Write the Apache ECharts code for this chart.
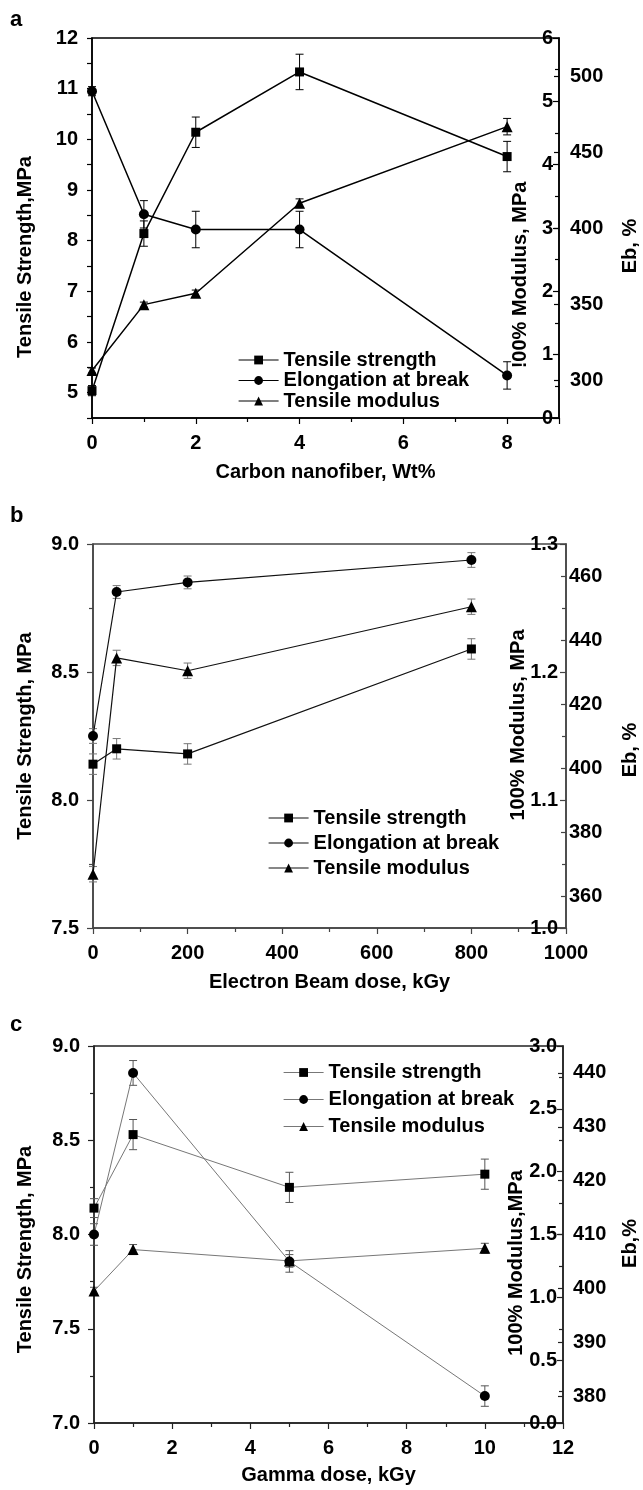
<!DOCTYPE html>
<html><head><meta charset="utf-8">
<script src="https://cdn.jsdelivr.net/npm/echarts@6/dist/echarts.min.js"></script>
<style>html,body{margin:0;padding:0;background:#fff}#c{width:643px;height:1490px}</style>
</head><body><div id="c"></div>
<script>
// ---------- Panel a: Carbon nanofiber ----------
const xA = [0, 1, 2, 4, 8];
const tsA = [5.04, 8.14, 10.14, 11.33, 9.66];
const tsErrA = [0.1, 0.25, 0.3, 0.35, 0.3];
const ebA = [490, 409, 399, 399, 303];
const ebErrA = [3, 9, 12, 12, 9];
const modA = [0.75, 1.79, 1.97, 3.39, 4.6];
const modErrA = [0.04, 0.04, 0.05, 0.07, 0.13];
const xTicksA = [0, 2, 4, 6, 8];
const tsTicksA = [5, 6, 7, 8, 9, 10, 11, 12];
const tsMinorA = [4.5, 5, 5.5, 6, 6.5, 7, 7.5, 8, 8.5, 9, 9.5, 10, 10.5, 11, 11.5, 12];
const ebTicksA = [300, 350, 400, 450, 500];

// ---------- Panel b: Electron beam dose ----------
const xB = [0, 50, 200, 800];
const tsB = [8.14, 8.20, 8.18, 8.59];
const tsErrB = [0.04, 0.04, 0.04, 0.04];
const ebB = [410, 455, 458, 465];
const ebErrB = [2.3, 2, 2, 2.3];
const modB = [1.042, 1.211, 1.201, 1.251];
const modErrB = [0.006, 0.006, 0.006, 0.006];
const ebTicksB = [360, 380, 400, 420, 440, 460];

// ---------- Panel c: Gamma dose ----------
const xC = [0, 1, 5, 10];
const tsC = [8.14, 8.53, 8.25, 8.32];
const tsErrC = [0.05, 0.08, 0.08, 0.08];
const ebC = [410, 440, 405, 380];
const ebErrC = [2, 2.3, 2, 1.9];
const modC = [1.05, 1.38, 1.29, 1.39];
const modErrC = [0.03, 0.04, 0.05, 0.04];
const ebTicksC = [380, 390, 400, 410, 420, 430, 440];

const NAMES = ['Tensile strength', 'Elongation at break', 'Tensile modulus'];
const FONT = "'Liberation Sans', Arial, Helvetica, sans-serif";
const txt = (size) => ({ fontFamily: FONT, fontWeight: 'bold', fontSize: size, color: '#000' });

function pairs(xs, ys) { return xs.map((x, i) => [x, ys[i]]); }

function lineSeries(name, xs, ys, xi, yi, symbol, size, color, width) {
  return {
    type: 'line', name, xAxisIndex: xi, yAxisIndex: yi, data: pairs(xs, ys),
    symbol, symbolSize: size, showSymbol: true, z: 3,
    lineStyle: { color, width },
    itemStyle: { color: '#000', borderWidth: 0 },
    emphasis: { disabled: true }, animation: false
  };
}
function errSeries(xs, ys, errs, xi, yi, color) {
  return {
    type: 'custom', xAxisIndex: xi, yAxisIndex: yi, z: 2, silent: true, animation: false,
    data: xs.map((x, i) => [x, ys[i] - errs[i], ys[i] + errs[i]]),
    encode: { x: 0, y: [1, 2] },
    renderItem: (params, api) => {
      const lo = api.coord([api.value(0), api.value(1)]);
      const hi = api.coord([api.value(0), api.value(2)]);
      const w = 4, st = { stroke: color, lineWidth: 1 };
      return { type: 'group', children: [
        { type: 'line', shape: { x1: lo[0], y1: lo[1], x2: hi[0], y2: hi[1] }, style: st },
        { type: 'line', shape: { x1: lo[0] - w, y1: lo[1], x2: lo[0] + w, y2: lo[1] }, style: st },
        { type: 'line', shape: { x1: hi[0] - w, y1: hi[1], x2: hi[0] + w, y2: hi[1] }, style: st }
      ]};
    }
  };
}

const plain = v => String(Math.round(v * 1000) / 1000);
const fix1 = v => v.toFixed(1);

function xAxis(grid, min, max, interval, name, gap, color, extraLabel) {
  return {
    type: 'value', gridIndex: grid, min, max, interval, name, nameLocation: 'middle', nameGap: gap,
    nameTextStyle: txt(20),
    axisLine: { show: true, lineStyle: { color, width: 1.5 } },
    axisTick: { show: true, length: 6, lineStyle: { color, width: 1.2 } },
    minorTick: { show: true, splitNumber: 2, length: 4, lineStyle: { color, width: 1.2 } },
    splitLine: { show: false },
    axisLabel: Object.assign(txt(20), { margin: 15, formatter: plain }, extraLabel || {})
  };
}
function leftAxis(grid, min, max, interval, name, gap, shift, color, extra) {
  const a = {
    type: 'value', gridIndex: grid, position: 'left', min, max, interval, name, nameLocation: 'middle', nameGap: gap,
    nameTextStyle: Object.assign(txt(20), { padding: [0, shift * 2, 0, 0] }),
    axisLine: { show: true, lineStyle: { color, width: 1.5 } },
    axisTick: { show: true, length: 6, lineStyle: { color, width: 1.2 } },
    minorTick: { show: true, splitNumber: 2, length: 4, lineStyle: { color, width: 1.2 } },
    splitLine: { show: false },
    axisLabel: Object.assign(txt(20), { margin: 14 })
  };
  return Object.assign(a, extra || {});
}
function modAxis(grid, min, max, interval, margin, color, fmt) {
  return {
    type: 'value', gridIndex: grid, position: 'right', min, max, interval,
    axisLine: { show: true, lineStyle: { color, width: 1.5 } },
    axisTick: { show: true, inside: true, length: 6, lineStyle: { color, width: 1.2 } },
    minorTick: { show: true, splitNumber: 2, length: 4, lineStyle: { color, width: 1.2 } },
    splitLine: { show: false },
    axisLabel: Object.assign(txt(20), { inside: true, margin, formatter: fmt })
  };
}
function ebAxis(grid, min, max, ticks, name, gap, shift, margin, color) {
  return {
    type: 'value', gridIndex: grid, position: 'right', offset: 0, min, max, name, nameLocation: 'middle', nameGap: gap,
    nameTextStyle: Object.assign(txt(20), { padding: [0, shift * 2, 0, 0] }),
    axisLine: { show: false },
    axisTick: { show: true, inside: true, length: 5, customValues: ticks, lineStyle: { color, width: 1.2 } },
    splitLine: { show: false },
    axisLabel: Object.assign(txt(20), { margin, customValues: ticks })
  };
}
function legend(left, top, gap, lh, lineColor) {
  return {
    orient: 'vertical', left, top, itemGap: gap, itemWidth: 40, itemHeight: 11,
    selectedMode: false,
    textStyle: Object.assign(txt(20), { lineHeight: lh }),
    data: NAMES.map(n => ({ name: n, lineStyle: { color: lineColor, width: 1.2 } }))
  };
}
function vTitle(text, cx, cy) {
  return { type: 'text', x: cx, y: cy, rotation: Math.PI / 2,
    style: { text, font: "bold 20px " + FONT, fill: '#000', align: 'center', verticalAlign: 'middle' } };
}

const option = {
  animation: false,
  backgroundColor: '#fff',
  grid: [
    { left: 92, top: 38, width: 467, height: 380, show: true, borderColor: '#000', borderWidth: 1.5, outerBoundsMode: 'none', containLabel: false },
    { left: 93, top: 544, width: 473, height: 384, show: true, borderColor: '#444', borderWidth: 1.5, outerBoundsMode: 'none', containLabel: false },
    { left: 94, top: 1046, width: 469, height: 377, show: true, borderColor: '#222', borderWidth: 1.5, outerBoundsMode: 'none', containLabel: false }
  ],
  legend: [
    legend(233, 345, 0.5, 19, '#000'),
    legend(263, 803, 5, 20, '#111'),
    legend(278, 1057, 6, 21, '#777')
  ],
  graphic: [
    { type: 'text', left: 10, top: 9, style: { text: 'a', font: "bold 22px " + FONT, fill: '#000' } },
    { type: 'text', left: 10, top: 505, style: { text: 'b', font: "bold 22px " + FONT, fill: '#000' } },
    { type: 'text', left: 10, top: 1014, style: { text: 'c', font: "bold 22px " + FONT, fill: '#000' } },
    vTitle('!00% Modulus, MPa', 520, 275),
    vTitle('100% Modulus, MPa', 518, 725),
    vTitle('100% Modulus,MPa', 516, 1263)
  ],
  xAxis: [
    xAxis(0, 0, 9, 2, 'Carbon nanofiber, Wt%', 44, '#000', { customValues: xTicksA }),
    xAxis(1, 0, 1000, 200, 'Electron Beam dose, kGy', 44, '#444'),
    xAxis(2, 0, 12, 2, 'Gamma dose, kGy', 42, '#222')
  ],
  yAxis: [
    // panel a
    leftAxis(0, 4.5, 12, null, 'Tensile Strength,MPa', 57, 29, '#000', {
      axisTick: { show: true, length: 5, customValues: tsMinorA, lineStyle: { color: '#000', width: 1.2 } },
      axisLabel: Object.assign(txt(20), { margin: 14, customValues: tsTicksA }),
      minorTick: { show: false }
    }),
    modAxis(0, 0, 6, 1, 6, '#000', plain),
    ebAxis(0, 275, 525, ebTicksA, 'Eb, %', 61, 18, 11, '#000'),
    // panel b
    leftAxis(1, 7.5, 9.0, 0.5, 'Tensile Strength, MPa', 58, 0, '#444', { axisLabel: Object.assign(txt(20), { margin: 14, formatter: fix1 }) }),
    modAxis(1, 1.0, 1.3, 0.1, 8, '#444', fix1),
    ebAxis(1, 350, 470, ebTicksB, 'Eb, %', 54, 14, 3, '#444'),
    // panel c
    leftAxis(2, 7.0, 9.0, 0.5, 'Tensile Strength, MPa', 59, 15, '#222', { axisLabel: Object.assign(txt(20), { margin: 14, formatter: fix1 }) }),
    modAxis(2, 0, 3.0, 0.5, 6, '#222', fix1),
    ebAxis(2, 375, 445, ebTicksC, 'Eb,%', 57, 9, 10, '#222')
  ],
  series: [
    errSeries(xA, tsA, tsErrA, 0, 0, '#000'),
    errSeries(xA, ebA, ebErrA, 0, 2, '#000'),
    errSeries(xA, modA, modErrA, 0, 1, '#000'),
    lineSeries(NAMES[0], xA, tsA, 0, 0, 'rect', 9, '#000', 1.5),
    lineSeries(NAMES[1], xA, ebA, 0, 2, 'circle', 10, '#000', 1.5),
    lineSeries(NAMES[2], xA, modA, 0, 1, 'triangle', 11, '#000', 1.5),

    errSeries(xB, tsB, tsErrB, 1, 3, '#777'),
    errSeries(xB, ebB, ebErrB, 1, 5, '#777'),
    errSeries(xB, modB, modErrB, 1, 4, '#777'),
    lineSeries(NAMES[0], xB, tsB, 1, 3, 'rect', 9, '#111', 1.2),
    lineSeries(NAMES[1], xB, ebB, 1, 5, 'circle', 10, '#111', 1.2),
    lineSeries(NAMES[2], xB, modB, 1, 4, 'triangle', 11, '#111', 1.2),

    errSeries(xC, tsC, tsErrC, 2, 6, '#555'),
    errSeries(xC, ebC, ebErrC, 2, 8, '#555'),
    errSeries(xC, modC, modErrC, 2, 7, '#555'),
    lineSeries(NAMES[0], xC, tsC, 2, 6, 'rect', 9, '#777', 1),
    lineSeries(NAMES[1], xC, ebC, 2, 8, 'circle', 10, '#777', 1),
    lineSeries(NAMES[2], xC, modC, 2, 7, 'triangle', 11, '#777', 1)
  ]
};
const chart = echarts.init(document.getElementById('c'), null, { renderer: 'canvas' });
chart.setOption(option);
</script></body></html>
